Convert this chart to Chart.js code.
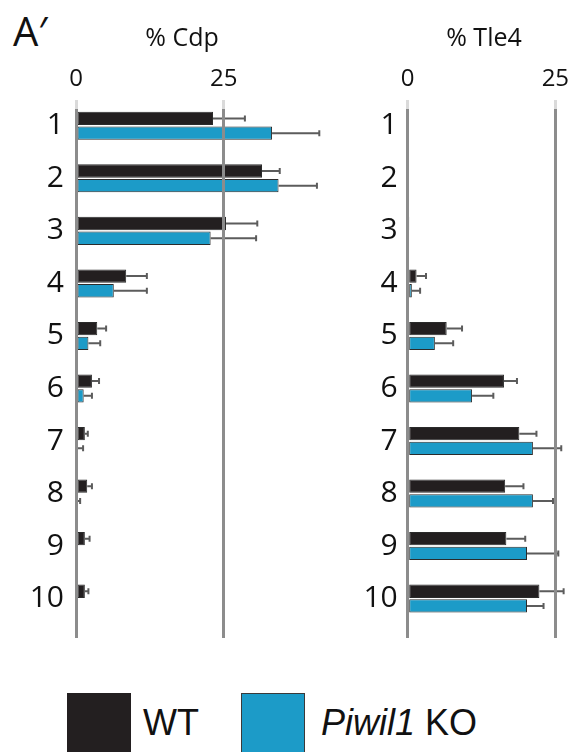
<!DOCTYPE html>
<html>
<head>
<meta charset="utf-8">
<script src="https://cdn.jsdelivr.net/npm/chart.js@4.4.1/dist/chart.umd.min.js"></script>
<style>
    html, body { margin: 0; padding: 0; background: #fff; }
    body { width: 570px; height: 752px; position: relative; overflow: hidden; font-family: 'Open Sans', sans-serif; color: #111; }
    #panel-label { position: absolute; left: 13px; top: 11px; font-size: 40px; line-height: 40px; }
    #cdp-wrap { position: absolute; left: 0; top: 0; width: 364px; height: 670px; }
    #tle4-wrap { position: absolute; left: 340px; top: 0; width: 288px; height: 670px; }
    #legend { position: absolute; left: 67px; top: 693px; display: flex; font-family: 'Liberation Sans', Arial, sans-serif; font-size: 36px; line-height: 59px; }
    .swatch { width: 64px; height: 64px; box-sizing: border-box; }
</style>
</head>
<body>
<div id="panel-label">A′</div>
<div id="cdp-wrap"><canvas id="cdp-chart"></canvas></div>
<div id="tle4-wrap"><canvas id="tle4-chart"></canvas></div>
<div id="legend"></div>
<script>
const categories = ['1', '2', '3', '4', '5', '6', '7', '8', '9', '10'];
const xTicks = [0, 25];

const seriesNames = ['WT', 'Piwil1 KO'];
const seriesColors = ['#231f20', '#1c9bc8'];

const cdpWT = [23.2, 31.5, 25.4, 8.5, 3.6, 2.7, 1.5, 1.9, 1.5, 1.5];
const cdpWTErr = [5.4, 3.0, 5.3, 3.5, 1.5, 1.2, 0.5, 0.8, 0.8, 0.6];
const cdpKO = [33.2, 34.3, 22.8, 6.4, 2.1, 1.3, 0.3, 0.1, 0, 0];
const cdpKOErr = [8.0, 6.5, 7.7, 5.6, 2.0, 1.4, 0.9, 0.6, 0, 0];

const tleWT = [0, 0, 0.2, 1.5, 6.6, 16.3, 18.9, 16.5, 16.7, 22.3];
const tleWTErr = [0, 0, 0, 1.6, 2.6, 2.2, 2.9, 3.1, 3.2, 4.1];
const tleKO = [0, 0, 0, 0.7, 4.6, 10.9, 21.2, 21.2, 20.2, 20.2];
const tleKOErr = [0, 0, 0, 1.4, 3.1, 3.6, 4.8, 3.4, 5.3, 2.8];

// whiskers on the positive side only, with a small cap
const errorBars = {
    id: 'errorBars',
    afterDatasetsDraw(chart) {
        const { ctx } = chart;
        const x = chart.scales.x;
        ctx.save();
        ctx.strokeStyle = '#5c5c5c';
        ctx.lineWidth = 2;
        chart.data.datasets.forEach((ds, i) => {
            chart.getDatasetMeta(i).data.forEach((bar, j) => {
                const err = ds.errors[j];
                if (!err) return;
                const x0 = x.getPixelForValue(ds.data[j].x);
                const x1 = x.getPixelForValue(ds.data[j].x + err);
                ctx.beginPath();
                ctx.moveTo(x0, bar.y);
                ctx.lineTo(x1, bar.y);
                ctx.moveTo(x1, bar.y - 3);
                ctx.lineTo(x1, bar.y + 3);
                ctx.stroke();
            });
        });
        ctx.restore();
    }
};

const toPoints = (values) => values.map((v, i) => ({ x: v, y: i + 1 }));

const makeDataset = (k, values, errors) => ({
    label: seriesNames[k],
    data: toPoints(values),
    errors: errors,
    backgroundColor: seriesColors[k],
    borderColor: '#2b2b2b',
    borderWidth: 1,
    borderSkipped: false,
    categoryPercentage: 0.56,
    barPercentage: 0.905
});

const makeChart = (canvasId, title, wt, wtErr, ko, koErr, cfg) => {
    new Chart(document.getElementById(canvasId), {
        type: 'bar',
        data: {
            datasets: [makeDataset(0, wt, wtErr), makeDataset(1, ko, koErr)]
        },
        plugins: [errorBars],
        options: {
            indexAxis: 'y',
            responsive: true,
            maintainAspectRatio: false,
            animation: false,
            layout: { padding: { left: 0, right: 0, top: 0, bottom: 32 } },
            plugins: {
                legend: { display: false },
                tooltip: { enabled: false },
                title: {
                    display: true,
                    text: title,
                    color: '#111',
                    font: { family: 'Open Sans', size: 25, weight: 'normal' },
                    padding: { top: 23.5, bottom: 5.7 }
                }
            },
            scales: {
                x: {
                    type: 'linear',
                    position: 'top',
                    min: 0,
                    max: cfg.xMax,
                    afterBuildTicks: (scale) => { scale.ticks = xTicks.map(v => ({ value: v })); },
                    ticks: { color: '#111', padding: 6, font: { family: 'Open Sans', size: 24 } },
                    grid: { z: 1, color: '#8c8c8c', lineWidth: 3, tickColor: '#dadada', tickLength: 9 },
                    border: { display: false }
                },
                y: {
                    type: 'linear',
                    offset: false,
                    reverse: true,
                    min: 0.68,
                    max: 10.75,
                    afterBuildTicks: (scale) => { scale.ticks = categories.map((c, i) => ({ value: i + 1 })); },
                    afterFit: (scale) => { scale.width = cfg.yWidth; },
                    ticks: {
                        color: '#111',
                        padding: cfg.labelPad,
                        font: { family: 'Open Sans', size: 30 },
                        callback: (value, index) => categories[index]
                    },
                    grid: { display: false, drawTicks: false },
                    border: { display: false }
                }
            }
        }
    });
};

makeChart('cdp-chart', '% Cdp', cdpWT, cdpWTErr, cdpKO, cdpKOErr,
    { yWidth: 76, labelPad: 12, xMax: 48.77 });
makeChart('tle4-chart', '% Tle4', tleWT, tleWTErr, tleKO, tleKOErr,
    { yWidth: 67.7, labelPad: 10, xMax: 37.3 });

// legend: plain HTML so the gene name can be set in italics
const legend = document.getElementById('legend');
legend.innerHTML = `
    <div class="swatch" style="background:${seriesColors[0]}"></div>
    <div style="margin-left:12px;margin-right:42px">${seriesNames[0]}</div>
    <div class="swatch" style="background:${seriesColors[1]};border:1px solid #3a3a3a"></div>
    <div style="margin-left:16px"><i>${seriesNames[1].split(' ')[0]}</i> ${seriesNames[1].split(' ')[1]}</div>
`;
</script>
</body>
</html>
